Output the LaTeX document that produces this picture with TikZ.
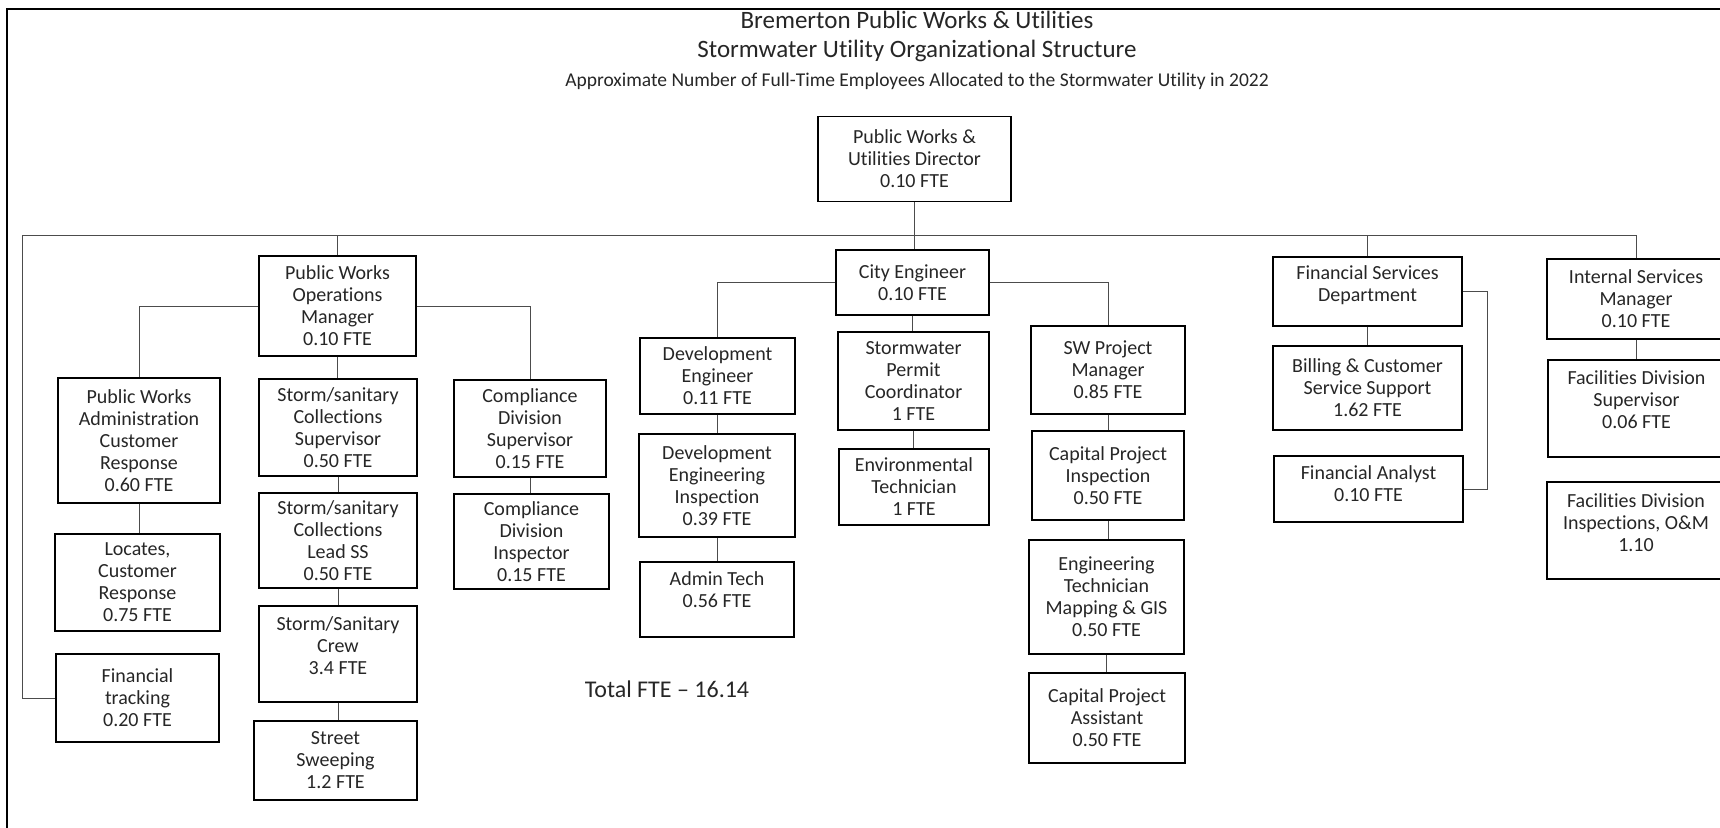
\documentclass[tikz,border=0pt]{standalone}
\usepackage{fontspec}
\setmainfont{Carlito}[Ligatures={TeX,NoCommon}]
\usetikzlibrary{positioning,calc}

% extra depth under the last line, so the text sits higher in its box
\newcommand{\padbelow}[1]{\rule[-#1pt]{0pt}{#1pt}}

\begin{document}
\begin{tikzpicture}[x=1pt,y=-1pt,
  box/.style={rectangle,draw,line width=1.4pt,align=center,inner sep=2pt,
    font=\fontsize{20}{22}\selectfont,text=black!85},
  link/.style={draw=black!70,line width=0.9pt},
  heading/.style={font=\fontsize{25}{28}\selectfont,text=black!85}]
\useasboundingbox (0,0) rectangle (1720,827);

% page frame
\draw[line width=2.5pt] (7,900) -- (7,9) -- (1800,9);

% headings
\node[heading, name=title1] at (917,20) {Bremerton Public Works \& Utilities};
\node[heading, name=title2] at (917,51) {Stormwater Utility Organizational Structure};
\node[heading, font=\fontsize{19.5}{22}\selectfont, name=title3] at (917,81) {Approximate Number of Full-Time Employees Allocated to the Stormwater Utility in 2022};

% director
\node[box, minimum width=193, minimum height=85, name=dir] at (914.5,159) {Public Works \&\\Utilities Director\\0.10 FTE};

% main bus
\coordinate (busL) at (22,235);
\coordinate (busR) at (1636,235);

% operations column
\node[box, minimum width=157, minimum height=100, name=opsmgr] at (337.5,306) {Public Works\\Operations\\Manager\\0.10 FTE};
\node[box, minimum width=162, minimum height=125, name=admin] at (139,440.5) {Public Works\\Administration\\Customer\\Response\\0.60 FTE};
\node[box, minimum width=165, minimum height=97, name=locates] at (137.5,582.5) {Locates,\\Customer\\Response\\0.75 FTE};
\node[box, minimum width=163, minimum height=88, name=fintrack] at (137.5,698) {Financial\\tracking\\0.20 FTE};
\node[box, minimum width=158, minimum height=97, name=stormsup] at (338,427.5) {Storm/sanitary\\Collections\\Supervisor\\0.50 FTE};
\node[box, minimum width=158, minimum height=95, name=leadss] at (338,540.5) {Storm/sanitary\\Collections\\Lead SS\\0.50 FTE};
\node[box, minimum width=158, minimum height=96, name=crew] at (338,654) {Storm/Sanitary\\Crew\\3.4 FTE\padbelow{16}};
\node[box, minimum width=163, minimum height=79, name=sweep] at (335.5,760.5) {Street\\Sweeping\\1.2 FTE};
\node[box, minimum width=152, minimum height=97, name=compsup] at (530,428.5) {Compliance\\Division\\Supervisor\\0.15 FTE};
\node[box, minimum width=155, minimum height=95, name=compinsp] at (531.5,541.5) {Compliance\\Division\\Inspector\\0.15 FTE};

% engineering columns
\node[box, minimum width=153, minimum height=65, name=cityeng] at (912.5,282.5) {City Engineer\\0.10 FTE};
\node[box, minimum width=155, minimum height=76, name=deveng] at (717.5,376) {Development\\Engineer\\0.11 FTE};
\node[box, minimum width=156, minimum height=103, name=devinsp] at (717,485.5) {Development\\Engineering\\Inspection\\0.39 FTE};
\node[box, minimum width=154, minimum height=75, name=admintech] at (717,599.5) {Admin Tech\\0.56 FTE\padbelow{20}};
\node[box, minimum width=151, minimum height=98, name=permit] at (913.5,381) {Stormwater\\Permit\\Coordinator\\1 FTE};
\node[box, minimum width=150, minimum height=76, name=envtech] at (914,487) {Environmental\\Technician\\1 FTE};
\node[box, minimum width=154, minimum height=88, name=swpm] at (1108,370) {SW Project\\Manager\\0.85 FTE};
\node[box, minimum width=152, minimum height=89, name=cpinsp] at (1108,475.5) {Capital Project\\Inspection\\0.50 FTE};
\node[box, minimum width=155, minimum height=114, name=engtech] at (1106.5,597) {Engineering\\Technician\\Mapping \& GIS\\0.50 FTE};
\node[box, minimum width=156, minimum height=90, name=cpasst] at (1107,718) {Capital Project\\Assistant\\0.50 FTE};

% finance and internal services
\node[box, minimum width=189, minimum height=69, name=fsd] at (1367.5,291.5) {Financial Services\\Department\padbelow{16}};
\node[box, minimum width=189, minimum height=84, name=billing] at (1367.5,388) {Billing \& Customer\\Service Support\\1.62 FTE};
\node[box, minimum width=189, minimum height=66, name=finanalyst] at (1368.5,489) {Financial Analyst\\0.10 FTE\padbelow{10}};
\node[box, minimum width=178, minimum height=80, name=ism] at (1636,299) {Internal Services\\Manager\\0.10 FTE};
\node[box, minimum width=177, minimum height=97, name=facsup] at (1636.5,408.5) {Facilities Division\\Supervisor\\0.06 FTE\padbelow{18}};
\node[box, minimum width=178, minimum height=97, name=facinsp] at (1636,530.5) {Facilities Division\\Inspections, O\&M\\1.10\padbelow{16}};

% total
\node[font=\fontsize{24}{28}\selectfont, text=black!85, name=total] at (667,689) {Total FTE \textendash{} 16.14};

% connectors from the bus
\draw[link] (busL) -- (busR);
\draw[link] (dir.south) -- (dir.south |- cityeng.north);
\draw[link] (busL) |- (fintrack.west);
\foreach \n in {opsmgr,fsd,ism}
  \draw[link] (\n.north) -- (\n.north |- busL);

% side branches
\draw[link] (opsmgr.west) -| (admin.north);
\draw[link] (opsmgr.east) -| (compsup.north);
\draw[link] (cityeng.west) -| (deveng.north);
\draw[link] (cityeng.east) -| (swpm.north);
\draw[link] (fsd.east) -- ++(25,0) |- (finanalyst.east);

% straight down
\foreach \a/\b in {admin/locates,opsmgr/stormsup,stormsup/leadss,leadss/crew,crew/sweep,
    compsup/compinsp,cityeng/permit,permit/envtech,deveng/devinsp,devinsp/admintech,
    swpm/cpinsp,cpinsp/engtech,engtech/cpasst,fsd/billing,ism/facsup}
  \draw[link] (\a.south) -- (\a.south |- \b.north);
\end{tikzpicture}
\end{document}
